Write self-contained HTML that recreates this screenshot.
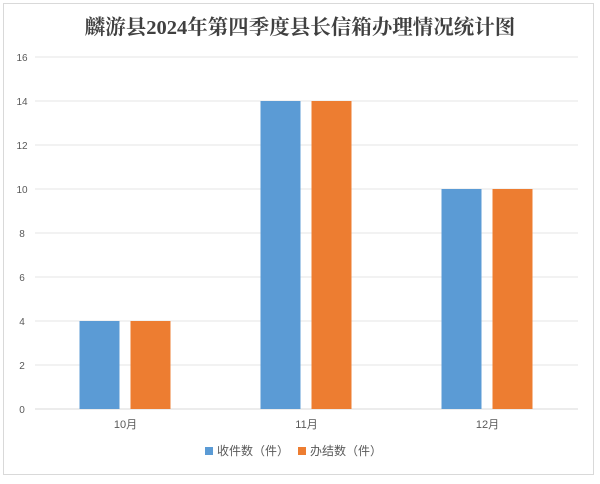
<!DOCTYPE html>
<html><head><meta charset="utf-8"><style>
body{margin:0;background:#fff;width:600px;height:479px;overflow:hidden}
svg text{font-family:"Liberation Sans","Noto Sans CJK SC",sans-serif}
</style></head><body>
<svg width="600" height="479">
<rect x="3.5" y="3.5" width="590" height="471" fill="#fff" stroke="#d9d9d9"/>
<text x="300" y="34" text-anchor="middle" font-size="20.5" font-weight="bold" fill="#404040" style="font-family:'Liberation Serif','Noto Serif CJK SC',serif">麟游县2024年第四季度县长信箱办理情况统计图</text>
<g id="grid"></g><g id="bars"></g><g id="xl"></g>
<g>
<rect x="205" y="447" width="8" height="8" fill="#5b9bd5"/>
<text x="217" y="455" font-size="12" fill="#595959">收件数（件）</text>
<rect x="298" y="447" width="8" height="8" fill="#ed7d31"/>
<text x="310" y="455" font-size="12" fill="#595959">办结数（件）</text>
</g>
</svg>
<script>
const categories=["10月","11月","12月"];
const received=[4,14,10];
const done=[4,14,10];
const ticks=[0,2,4,6,8,10,12,14,16];
const X0=35,X1=578,Y0=409,Y1=57,MAX=16;
const y=v=>Y0-(v/MAX)*(Y0-Y1);
const bw=(X1-X0)/categories.length;
const ns="http://www.w3.org/2000/svg";
function mk(t,a,p){const e=document.createElementNS(ns,t);for(const k in a)e.setAttribute(k,a[k]);p.appendChild(e);return e;}
const g=document.getElementById('grid'),b=document.getElementById('bars'),xl=document.getElementById('xl');
ticks.forEach(t=>{
 const l=mk('line',{x1:X0,x2:X1,y1:y(t),y2:y(t),stroke:t===0?'#d9d9d9':'#e6e6e6'},g);
 
 
 const tx=mk('text',{x:22,y:y(t)+4,'text-anchor':'middle','font-size':10,fill:'#595959'},g);
 tx.textContent=t;
 
 
});
categories.forEach((c,i)=>{
 const cx=X0+bw*(i+0.5);
 const r1=mk('rect',{x:cx-46,y:y(received[i]),width:40,height:Y0-y(received[i]),fill:'#5b9bd5'},b);
 
 
 const r2=mk('rect',{x:cx+5,y:y(done[i]),width:40,height:Y0-y(done[i]),fill:'#ed7d31'},b);
 
 
 const t=mk('text',{x:cx,y:428,'text-anchor':'middle','font-size':11,fill:'#595959'},xl);
 t.textContent=c;
 
 
});
</script>
</body></html>
